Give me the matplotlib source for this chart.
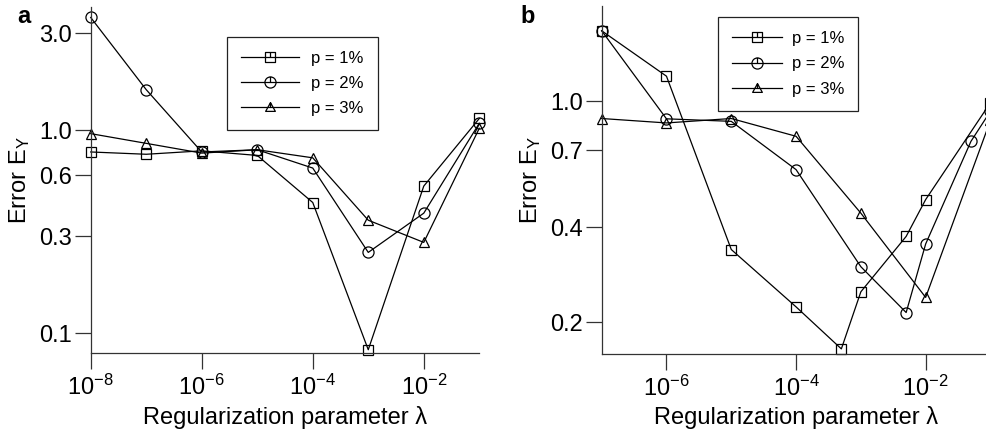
import numpy as np
import matplotlib
matplotlib.use("Agg")
import matplotlib.pyplot as plt
from matplotlib.path import Path
from matplotlib.lines import Line2D
from matplotlib.ticker import FixedLocator, FixedFormatter, NullLocator

plt.rcParams['font.family'] = ['Liberation Sans', 'DejaVu Sans']
plt.rcParams['mathtext.fontset'] = 'custom'
plt.rcParams['mathtext.rm'] = 'Liberation Sans'
plt.rcParams['mathtext.it'] = 'Liberation Sans:italic'

# panel a: every decade
lam_a = [1e-8, 1e-7, 1e-6, 1e-5, 1e-4, 1e-3, 1e-2, 1e-1]
err_a_p1 = [0.78, 0.76, 0.79, 0.75, 0.44, 0.083, 0.53, 1.14]
err_a_p2 = [3.58, 1.58, 0.78, 0.80, 0.65, 0.25, 0.39, 1.08]
err_a_p3 = [0.96, 0.86, 0.77, 0.80, 0.73, 0.36, 0.28, 1.02]

# panel b
lam_b_p1 = [1e-7, 1e-6, 1e-5, 1e-4, 5e-4, 1e-3, 5e-3, 1e-2, 1e-1]
err_b_p1 = [1.67, 1.20, 0.34, 0.224, 0.165, 0.25, 0.374, 0.489, 0.99]
lam_b_p2 = [1e-7, 1e-6, 1e-5, 1e-4, 1e-3, 5e-3, 1e-2, 5e-2, 1e-1]
err_b_p2 = [1.67, 0.88, 0.864, 0.608, 0.30, 0.215, 0.354, 0.747, 0.93]
lam_b_p3 = [1e-7, 1e-6, 1e-5, 1e-4, 1e-3, 1e-2, 1e-1]
err_b_p3 = [0.882, 0.854, 0.882, 0.775, 0.443, 0.24, 0.87]

labels = ['p = 1%', 'p = 2%', 'p = 3%']
yticks_a = [0.1, 0.3, 0.6, 1.0, 3.0]
yticks_b = [0.2, 0.4, 0.7, 1.0]
xticks_a = [1e-8, 1e-6, 1e-4, 1e-2]
xticks_b = [1e-6, 1e-4, 1e-2]

SPINE = '#333333'


def tick_path(base):
    # outline marker with a short vertical stroke from the centre up (as in the legend)
    verts = list(base.vertices) + [(0, 0), (0, 1)]
    codes = list(base.codes) + [Path.MOVETO, Path.LINETO]
    return Path(verts, codes)


sq = Path([(-1, -1), (1, -1), (1, 1), (-1, 1), (-1, -1)],
          [Path.MOVETO, Path.LINETO, Path.LINETO, Path.LINETO, Path.CLOSEPOLY])
ci = Path.unit_circle()
tr = Path([(-1, -0.8), (1, -0.8), (0, 1), (-1, -0.8)],
          [Path.MOVETO, Path.LINETO, Path.LINETO, Path.CLOSEPOLY])
leg_markers = [tick_path(sq), tick_path(ci), tick_path(tr)]
data_markers = ['s', 'o', '^']
msizes = [7.5, 8, 7]


def style_axes(ax, xlim, ylim, xt, yt):
    ax.set_xscale('log')
    ax.set_yscale('log')
    ax.set_xlim(*xlim)
    ax.set_ylim(*ylim)
    ax.spines['top'].set_visible(False)
    ax.spines['right'].set_visible(False)
    for s in ['left', 'bottom']:
        ax.spines[s].set_color(SPINE)
        ax.spines[s].set_linewidth(0.9)
    ax.xaxis.set_major_locator(FixedLocator(xt))
    ax.xaxis.set_major_formatter(FixedFormatter(
        ['$\\mathregular{10^{%d}}$' % int(round(np.log10(v))) for v in xt]))
    ax.xaxis.set_minor_locator(NullLocator())
    ax.yaxis.set_major_locator(FixedLocator(yt))
    ax.yaxis.set_major_formatter(FixedFormatter(['%.1f' % v for v in yt]))
    ax.yaxis.set_minor_locator(NullLocator())
    ax.tick_params(axis='x', direction='out', length=11.5, width=0.9,
                   color=SPINE, labelsize=17, pad=4)
    ax.tick_params(axis='y', direction='out', length=11.3, width=0.9,
                   color=SPINE, labelsize=17, pad=2.4)
    ax.set_xlabel('Regularization parameter λ', fontsize=17)
    ax.set_ylabel('Error E$_\\mathregular{Y}$', fontsize=17)


fig = plt.figure(figsize=(9.87, 4.47), dpi=100)
ax_a = fig.add_axes([0.0919, 0.2096, 0.3937, 0.7747])
ax_b = fig.add_axes([0.6096, 0.2081, 0.3939, 0.7785])

style_axes(ax_a, (1e-8, 1e-1), (0.0797, 4.03), xticks_a, yticks_a)
style_axes(ax_b, (1e-7, 1e-1), (0.159, 2.0), xticks_b, yticks_b)

for ys, m, ms in zip([err_a_p1, err_a_p2, err_a_p3], data_markers, msizes):
    ax_a.plot(lam_a, ys, color='black', lw=0.9, marker=m, ms=ms,
              fillstyle='none', mew=0.9, clip_on=False)

for xs, ys, m, ms in zip([lam_b_p1, lam_b_p2, lam_b_p3],
                         [err_b_p1, err_b_p2, err_b_p3], data_markers, msizes):
    ax_b.plot(xs, ys, color='black', lw=0.9, marker=m, ms=ms,
              fillstyle='none', mew=0.9, clip_on=False)

ax_a.yaxis.set_label_coords(-0.151, 0.5)
ax_b.yaxis.set_label_coords(-0.151, 0.5)
ax_a.xaxis.set_label_coords(0.5, -0.152)
ax_b.xaxis.set_label_coords(0.5, -0.150)

handles = [Line2D([], [], color='black', lw=0.9, marker=m, ms=ms,
                  fillstyle='none', mew=0.9)
           for m, ms in zip(leg_markers, msizes)]

for ax, anchor, hl, htp in [(ax_a, (0.2297, 0.9179), 3.5, 0.74),
                            (ax_b, (0.7278, 0.9613), 2.95, 0.6)]:
    leg = ax.legend(handles, labels, loc='upper left', bbox_to_anchor=anchor,
                    bbox_transform=fig.transFigure, borderaxespad=0,
                    fontsize=12, handlelength=hl, handletextpad=htp,
                    labelspacing=0.61, borderpad=0.84, fancybox=False,
                    framealpha=1, edgecolor='#222222')
    leg.get_frame().set_linewidth(0.9)

fig.text(17 / 987, 1 - 23.3 / 447, 'a', fontsize=17, fontweight='bold')
fig.text(520 / 987, 1 - 23.3 / 447, 'b', fontsize=17, fontweight='bold')

fig.savefig('out.png', dpi=100)
